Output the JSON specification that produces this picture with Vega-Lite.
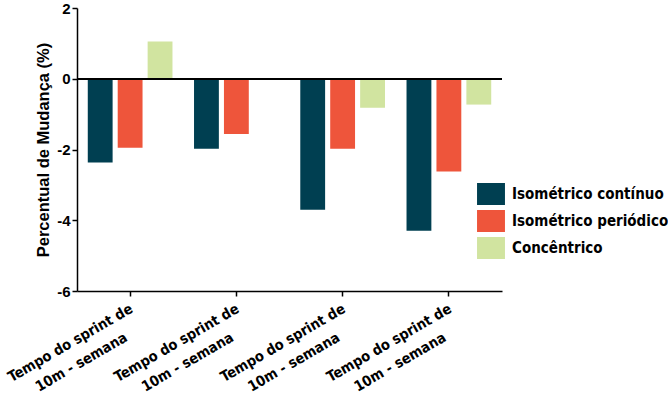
{
  "$schema": "https://vega.github.io/schema/vega-lite/v6.json",
  "width": 425,
  "height": 283,
  "autosize": {"type": "none"},
  "padding": {"left": 77, "top": 8, "right": 166, "bottom": 106},
  "background": "white",
  "config": {
    "view": {"stroke": null},
    "font": "Liberation Sans"
  },
  "data": {
    "values": [
      {"grupo": "1", "serie": "Isométrico contínuo", "valor": -2.37},
      {"grupo": "1", "serie": "Isométrico periódico", "valor": -1.95},
      {"grupo": "1", "serie": "Concêntrico", "valor": 1.05},
      {"grupo": "2", "serie": "Isométrico contínuo", "valor": -1.98},
      {"grupo": "2", "serie": "Isométrico periódico", "valor": -1.56},
      {"grupo": "2", "serie": "Concêntrico", "valor": 0},
      {"grupo": "3", "serie": "Isométrico contínuo", "valor": -3.7},
      {"grupo": "3", "serie": "Isométrico periódico", "valor": -1.98},
      {"grupo": "3", "serie": "Concêntrico", "valor": -0.82},
      {"grupo": "4", "serie": "Isométrico contínuo", "valor": -4.3},
      {"grupo": "4", "serie": "Isométrico periódico", "valor": -2.62},
      {"grupo": "4", "serie": "Concêntrico", "valor": -0.73}
    ]
  },
  "layer": [
    {
      "mark": {"type": "bar"},
      "encoding": {
        "x": {
          "field": "grupo",
          "type": "nominal",
          "scale": {"paddingInner": 0, "paddingOuter": 0},
          "axis": {
            "title": null,
            "labelExpr": "['Tempo do sprint de', '10m - semana']",
            "labelAngle": -30,
            "labelAlign": "center",
            "labelBaseline": "top",
            "labelOffset": -63,
            "labelFont": "DejaVu Sans Condensed",
            "labelFontWeight": "bold",
            "labelFontSize": 14.5,
            "labelColor": "black",
            "labelLineHeight": 22,
            "labelPadding": 41,
            "labelOverlap": false,
            "tickColor": "black",
            "tickSize": 5,
            "tickWidth": 1.5,
            "domainColor": "black",
            "domainWidth": 1.5,
            "grid": false
          }
        },
        "xOffset": {
          "field": "serie",
          "type": "nominal",
          "sort": ["Isométrico contínuo", "Isométrico periódico", "Concêntrico"],
          "scale": {"paddingInner": 0.17, "paddingOuter": 0.36}
        },
        "y": {
          "field": "valor",
          "type": "quantitative",
          "scale": {"domain": [-6, 2], "nice": false},
          "axis": {
            "title": "Percentual de Mudança (%)",
            "titleFont": "Liberation Sans",
            "titleFontWeight": "bold",
            "titleFontSize": 16.5,
            "titleColor": "black",
            "titlePadding": 5,
            "values": [-6, -4, -2, 0, 2],
            "labelExpr": "'' + datum.value",
            "labelFont": "Liberation Sans",
            "labelFontWeight": "bold",
            "labelFontSize": 15,
            "labelColor": "black",
            "labelPadding": 2,
            "tickColor": "black",
            "tickSize": 5,
            "tickWidth": 1.5,
            "domainColor": "black",
            "domainWidth": 1.5,
            "grid": false
          }
        },
        "color": {
          "field": "serie",
          "type": "nominal",
          "sort": ["Isométrico contínuo", "Isométrico periódico", "Concêntrico"],
          "scale": {
            "domain": ["Isométrico contínuo", "Isométrico periódico", "Concêntrico"],
            "range": ["#003F51", "#EE553B", "#D1E4A0"]
          },
          "legend": {
            "title": null,
            "orient": "none",
            "legendX": 403,
            "legendY": 175,
            "symbolType": "M-1.27,-1L1.27,-1L1.27,1L-1.27,1Z",
            "symbolSize": 484,
            "symbolStrokeWidth": 0,
            "symbolOpacity": 1,
            "rowPadding": 5,
            "labelFont": "DejaVu Sans Condensed",
            "labelFontWeight": "bold",
            "labelFontSize": 15,
            "labelColor": "black",
            "labelOffset": 10,
            "labelLimit": 300
          }
        }
      }
    },
    {
      "mark": {"type": "rule", "color": "black", "strokeWidth": 1.5},
      "encoding": {"y": {"datum": 0}}
    }
  ]
}
